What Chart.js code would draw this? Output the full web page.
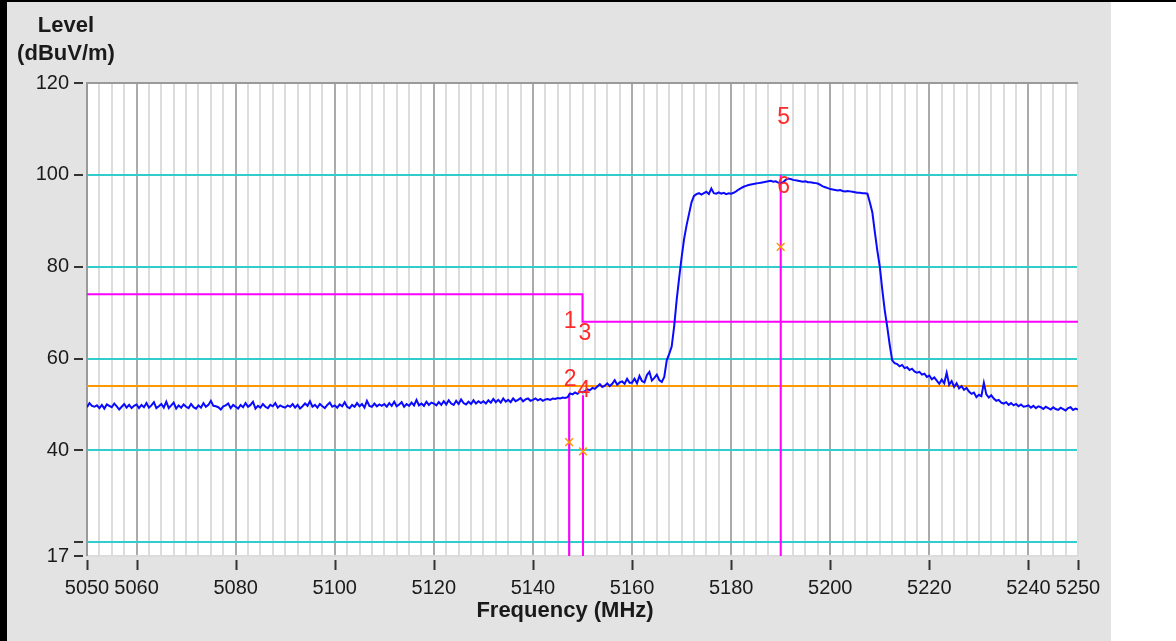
<!DOCTYPE html>
<html><head><meta charset="utf-8">
<script src="https://cdn.jsdelivr.net/npm/chart.js@4.4.1/dist/chart.umd.min.js"></script>
<style>html,body{margin:0;padding:0;background:#fff;}canvas{display:block;}</style>
</head><body>
<canvas id="c" width="1176" height="641"></canvas>
<script>
// ---- data ----
const FREQ_START = 5050;
const FREQ_STEP = 0.5;
const traceLevels = [
49.4,50.3,49.7,49.5,49.8,49.2,49.9,49.1,50.0,49.7,49.4,50.2,49.6,48.9,49.5,50.1,49.3,49.9,49.2,49.7,
50.0,49.2,49.9,49.4,50.3,49.3,49.8,50.5,49.2,49.6,50.1,49.3,50.6,49.2,49.8,50.4,49.1,49.8,49.3,50.0,
49.5,49.2,50.1,49.4,49.1,49.8,49.3,50.3,49.5,49.9,50.8,49.7,49.6,49.4,48.9,49.6,49.8,50.2,49.2,49.9,
49.5,49.1,49.9,49.4,50.3,49.5,49.9,50.6,49.1,49.7,49.3,50.1,49.5,49.2,49.9,49.6,50.3,49.3,49.8,49.5,
49.3,49.8,49.5,50.1,49.3,49.9,49.1,49.6,50.2,49.7,50.7,49.5,49.9,49.3,50.1,49.6,49.2,49.9,50.4,49.5,
49.8,49.3,50.0,49.6,50.5,49.5,49.2,49.9,49.5,50.3,49.6,50.1,49.3,50.8,49.7,49.5,50.2,49.6,50.0,49.7,
50.1,49.5,50.3,49.7,50.6,49.6,50.0,50.5,49.5,50.1,49.7,50.4,49.8,51.0,49.8,50.2,49.7,50.6,49.9,50.4,
50.2,49.8,50.5,49.9,50.7,50.0,50.9,50.2,49.9,50.8,50.1,51.1,50.3,50.0,50.6,50.1,50.9,50.2,50.7,50.3,
50.7,50.2,50.9,50.4,51.2,50.5,51.0,50.4,51.3,50.6,51.0,50.5,51.3,50.7,51.0,51.4,50.7,51.1,51.3,50.8,
51.0,51.3,50.9,51.2,50.8,51.1,51.2,51.0,51.3,51.2,51.4,51.3,51.5,51.4,51.6,52.4,52.2,52.6,52.3,52.8,
52.6,52.9,53.3,53.1,53.6,53.4,53.9,54.4,53.8,54.1,54.6,54.0,54.5,55.3,54.3,54.8,55.0,54.5,55.6,54.7,
54.7,55.6,54.6,56.2,55.1,54.8,56.4,57.1,55.2,55.8,56.5,55.3,54.9,56.0,59.6,61.0,62.6,67.0,72.7,77.5,
82.0,86.0,89.0,91.5,94.0,95.4,95.8,96.0,95.7,96.0,96.3,95.8,97.0,96.0,95.9,96.2,95.9,96.1,95.8,96.0,
95.9,96.1,96.4,96.8,97.1,97.4,97.6,97.8,97.9,98.0,98.1,98.2,98.3,98.4,98.5,98.6,98.7,98.5,98.6,98.3,
98.2,98.4,98.9,99.2,99.1,98.9,98.8,98.7,98.6,98.5,98.6,98.4,98.4,98.3,98.2,98.1,97.8,97.5,97.3,97.1,
96.9,96.8,96.7,96.6,96.7,96.5,96.4,96.5,96.4,96.3,96.2,96.1,96.1,96.0,96.0,95.9,94.0,91.8,87.5,83.5,
80.0,75.0,70.5,66.9,63.0,59.6,59.0,58.8,58.3,58.6,57.9,58.1,57.5,57.8,57.2,56.9,57.1,56.5,56.7,56.0,
56.3,55.5,55.9,55.2,54.5,55.4,54.6,56.9,54.3,55.1,53.8,54.6,53.5,54.0,53.2,53.6,52.8,52.3,52.6,51.6,
52.1,51.8,54.7,52.2,51.5,52.0,51.3,50.8,51.0,50.4,50.2,50.5,49.9,50.3,49.8,50.1,49.6,50.0,49.5,49.6,
49.8,49.3,49.7,49.2,49.6,49.4,49.0,49.5,49.2,48.9,49.4,49.0,48.8,49.3,49.0,48.7,49.2,49.4,48.8,49.1,
48.9
];
const limitFreqs = [5050, 5150, 5150, 5250];
const limitLevels = [74, 74, 68, 68];
const avgLimitFreqs = [5050, 5250];
const avgLimitLevels = [54, 54];
const markerLineFreqs = [5147.3, 5150.1, 5190.0];
const markerLineTops = [52.4, 52.0, 100.0];
const markerLabels = ['1', '2', '3', '4', '5', '6'];
const markerLabelFreqs = [5147.5, 5147.5, 5150.5, 5150.3, 5190.6, 5190.6];
const markerLabelLevels = [68.0, 55.3, 65.5, 53.1, 112.4, 97.4];
const avgReadFreqs = [5147.3, 5150.1, 5190.0];
const avgReadLevels = [41.8, 39.8, 84.3];
const yTickValues = [17, 20, 40, 60, 80, 100, 120];
const yTickLabels = ['17', '', '40', '60', '80', '100', '120'];
const xLabelValues = [5050, 5060, 5080, 5100, 5120, 5140, 5160, 5180, 5200, 5220, 5240, 5250];
const X_MIN = 5050, X_MAX = 5250, Y_MIN = 17, Y_MAX = 120, X_GRID_STEP = 2.5;

// ---- chart ----
const FONT = '"Liberation Sans", Arial, sans-serif';
const tracePts = traceLevels.map((v, i) => ({x: FREQ_START + i * FREQ_STEP, y: v}));
const zip = (xs, ys) => xs.map((x, i) => ({x, y: ys[i]}));

const markerLineSets = markerLineFreqs.map((f, i) => ({
  data: [{x: f, y: markerLineTops[i]}, {x: f, y: Y_MIN}],
  borderColor: '#ff00ff', borderWidth: 2, pointRadius: 0, order: 2
}));

const bgPlugin = {
  id: 'bg',
  beforeDraw(chart) {
    const c = chart.ctx, W = chart.width, H = chart.height, a = chart.chartArea;
    c.save();
    c.fillStyle = '#ffffff'; c.fillRect(0, 0, W, H);
    c.fillStyle = '#e3e3e3'; c.fillRect(0, 0, 1111, H);
    c.fillStyle = '#000000'; c.fillRect(0, 0, W, 2); c.fillRect(0, 0, 7, H);
    c.fillStyle = '#ffffff'; c.fillRect(a.left, a.top, a.right - a.left, a.bottom - a.top);
    c.restore();
  },
  beforeDatasetsDraw(chart) {
    const c = chart.ctx, a = chart.chartArea;
    c.save();
    c.lineWidth = 2;
    c.strokeStyle = '#dcdcdc';
    c.beginPath(); c.moveTo(a.right, a.top); c.lineTo(a.right, a.bottom); c.lineTo(a.left, a.bottom); c.stroke();
    c.strokeStyle = '#9a9a9a';
    c.beginPath(); c.moveTo(a.left, a.bottom); c.lineTo(a.left, a.top); c.lineTo(a.right, a.top); c.stroke();
    c.restore();
  },
  afterDatasetsDraw(chart) {
    const c = chart.ctx;
    const idx = chart.data.datasets.findIndex(d => d.id === 'labels');
    const meta = chart.getDatasetMeta(idx);
    c.save();
    c.fillStyle = '#ff2a2a';
    c.font = '23px ' + FONT;
    c.textAlign = 'center'; c.textBaseline = 'middle';
    meta.data.forEach((el, i) => c.fillText(markerLabels[i], el.x, el.y));
    c.restore();
  },
  afterDraw(chart) {
    const c = chart.ctx, a = chart.chartArea, xs = chart.scales.x, ys = chart.scales.y;
    c.save();
    c.strokeStyle = '#333'; c.lineWidth = 2;
    xLabelValues.forEach(v => {
      const px = Math.round(xs.getPixelForValue(v)) + 0.5;
      c.beginPath(); c.moveTo(px, a.bottom + 4); c.lineTo(px, a.bottom + 14); c.stroke();
    });
    yTickValues.forEach(v => {
      const py = Math.round(ys.getPixelForValue(v));
      c.beginPath(); c.moveTo(a.left - 13, py); c.lineTo(a.left - 4, py); c.stroke();
    });
    c.fillStyle = '#1a1a1a';
    c.font = 'bold 22px ' + FONT;
    c.textAlign = 'center'; c.textBaseline = 'middle';
    c.fillText('Level', 66, 26);
    c.fillText('(dBuV/m)', 66, 54);
    c.fillText('Frequency (MHz)', 565, 611);
    c.restore();
  }
};

new Chart(document.getElementById('c'), {
  type: 'line',
  data: {
    datasets: [
      {data: tracePts, borderColor: '#0a0aff', borderWidth: 2, pointRadius: 0, order: 1},
      {data: zip(limitFreqs, limitLevels), borderColor: '#ff00ff', borderWidth: 2, pointRadius: 0, order: 3},
      {data: zip(avgLimitFreqs, avgLimitLevels), borderColor: '#ff9900', borderWidth: 2, pointRadius: 0, order: 3},
      ...markerLineSets,
      {data: zip(avgReadFreqs, avgReadLevels), showLine: false, pointStyle: 'crossRot', pointRadius: 5.5,
       borderColor: '#ff9900', borderWidth: 1.5, order: 0},
      {id: 'labels', data: zip(markerLabelFreqs, markerLabelLevels), showLine: false, pointRadius: 0, order: 0}
    ]
  },
  options: {
    responsive: false, animation: false, devicePixelRatio: 1, events: [],
    layout: {padding: {left: 0, top: 83, right: 98, bottom: 0}},
    plugins: {legend: {display: false}, tooltip: {enabled: false}},
    scales: {
      x: {
        type: 'linear', min: X_MIN, max: X_MAX,
        afterBuildTicks: s => {
          const t = [];
          for (let v = X_MIN; v <= X_MAX + 1e-9; v += X_GRID_STEP) t.push({value: +v.toFixed(2)});
          s.ticks = t;
        },
        ticks: {autoSkip: false, maxRotation: 0, minRotation: 0, padding: 20, color: '#1a1a1a',
          font: {family: FONT, size: 20},
          callback: v => xLabelValues.includes(v) ? String(v) : ''},
        grid: {drawTicks: false, lineWidth: 2, z: -2,
          color: ctx => {
            const v = ctx.tick ? ctx.tick.value : null;
            if (v === X_MIN || v === X_MAX) return 'rgba(0,0,0,0)';
            return xLabelValues.includes(v) ? '#ababab' : '#dcdcdc';
          }},
        border: {display: false},
        afterFit: s => { s.height = 85; }
      },
      y: {
        type: 'linear', min: Y_MIN, max: Y_MAX,
        afterBuildTicks: s => { s.ticks = yTickValues.map(v => ({value: v})); },
        ticks: {autoSkip: false, padding: 18, color: '#1a1a1a', font: {family: FONT, size: 20},
          callback: v => yTickLabels[yTickValues.indexOf(v)] || ''},
        grid: {drawTicks: false, lineWidth: 2, z: -1,
          color: ctx => {
            const v = ctx.tick ? ctx.tick.value : null;
            return (v === Y_MIN || v === Y_MAX) ? 'rgba(0,0,0,0)' : '#33cccc';
          }},
        border: {display: false},
        afterFit: s => { s.width = 87; }
      }
    }
  },
  plugins: [bgPlugin]
});
</script>
</body></html>
